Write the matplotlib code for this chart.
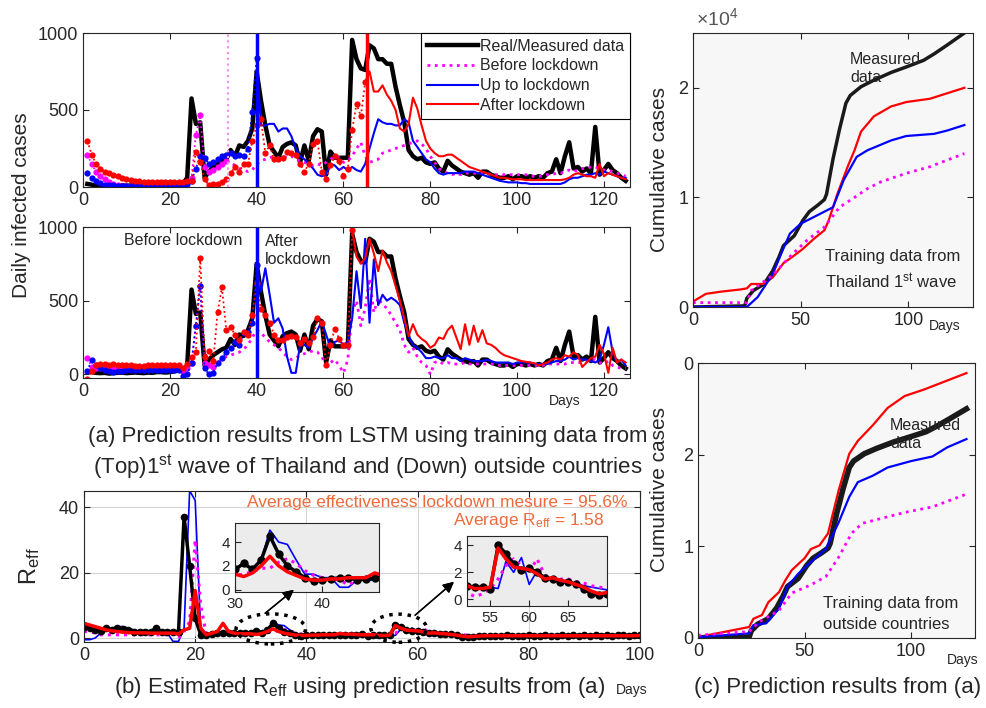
import matplotlib
matplotlib.use('Agg')
import matplotlib.pyplot as plt
import numpy as np
from matplotlib.patches import Ellipse
from matplotlib.lines import Line2D

plt.rcParams['font.family'] = ['Liberation Sans', 'DejaVu Sans']
plt.rcParams['mathtext.default'] = 'regular'
NARROW = ['Liberation Sans Narrow', 'Liberation Sans', 'DejaVu Sans']

# ---------------- data: daily cases (days 1..125) ----------------
days = np.arange(1, 126)

real_daily = [20, 15, 10, 8, 10, 5, 8, 10, 12, 8,
              10, 12, 10, 8, 12, 10, 15, 15, 12, 15,
              20, 25, 20, 60, 575, 410, 420, 60, 100, 130,
              150, 170, 180, 240, 200, 270, 260, 300, 380, 750,
              560, 400, 270, 230, 190, 260, 280, 290, 270, 160,
              270, 170, 330, 375, 360, 80, 230, 190, 190, 190,
              190, 955, 830, 770, 760, 920, 900, 830, 830, 800,
              800, 650, 530, 420, 240, 200, 180, 190, 160, 150,
              160, 120, 100, 170, 140, 120, 100, 90, 80, 90,
              60, 100, 100, 80, 70, 60, 60, 70, 50, 70,
              70, 60, 70, 60, 70, 60, 90, 100, 180, 90,
              200, 290, 120, 130, 100, 120, 90, 390, 80, 110,
              150, 110, 90, 60, 40]

# top panel: trained on Thailand 1st wave
before_top = [210, 150, 100, 70, 50, 30, 20, 10, 5, 5,
              5, 5, 5, 5, 5, 5, 5, 5, 5, 5,
              5, 10, 10, 30, 60, 340, 465, 130, 100, 110,
              130, 150, 170, 160, 140, 120, 110, 100, 110, 150,
              170, 180, 190, 200, 190, 200, 190, 200, 180, 170,
              160, 150, 140, 150, 140, 160, 180, 200, 190, 160,
              170, 200, 250, 290, 200, 160, 170, 180, 220, 230,
              240, 250, 260, 270, 280, 290, 300, 280, 250, 200,
              160, 120, 100, 90, 80, 90, 80, 90, 90, 90,
              90, 90, 90, 80, 80, 80, 80, 80, 80, 80,
              80, 80, 70, 70, 70, 70, 80, 80, 90, 90,
              100, 110, 100, 110, 120, 120, 130, 130, 120, 110,
              110, 100, 90, 80, 70]
upto_top = [90, 60, 40, 25, 15, 10, 10, 5, 5, 5,
            5, 5, 5, 5, 5, 5, 5, 5, 5, 5,
            5, 10, 15, 20, 40, 120, 200, 190, 150, 160,
            180, 200, 210, 220, 200, 210, 200, 250, 490, 840,
            400, 400, 410, 410, 360, 380, 380, 330, 250, 200,
            180, 150, 120, 80, 70, 80, 150, 140, 110, 130,
            110, 130, 110, 100, 150, 250, 350, 440, 420, 410,
            410, 400, 400, 440, 420, 300, 260, 220, 180, 160,
            120, 90, 80, 90, 90, 90, 90, 100, 100, 100,
            90, 80, 70, 60, 50, 40, 35, 30, 30, 30,
            25, 25, 20, 20, 20, 20, 20, 20, 20, 20,
            30, 50, 60, 60, 70, 80, 80, 90, 80, 100,
            90, 80, 70, 60, 60]
after_top = [300, 210, 150, 120, 100, 90, 80, 70, 60, 50,
             45, 40, 40, 35, 35, 35, 35, 35, 35, 35,
             35, 35, 35, 40, 40, 230, 160, 50, 10, 20,
             20, 30, 50, 90, 130, 100, 150, 150, 300, 400,
             440, 220, 270, 180, 180, 190, 230, 220, 210, 150,
             100, 150, 280, 300, 100, 50, 140, 200, 170, 70,
             120, 370, 540, 460, 680, 750, 620, 620, 660, 600,
             560, 500, 380, 360, 410, 580, 510, 400, 300, 250,
             220, 200, 200, 210, 210, 190, 170, 150, 130, 120,
             110, 100, 90, 80, 70, 60, 60, 55, 50, 50,
             50, 45, 45, 45, 45, 45, 45, 45, 45, 45,
             50, 60, 80, 90, 80, 70, 70, 60, 150, 70,
             90, 80, 70, 60, 50]

# middle panel: trained on outside countries
before_mid = [110, 50, 40, 40, 40, 40, 40, 40, 40, 40,
              40, 40, 40, 40, 40, 40, 40, 40, 40, 40,
              40, 40, 20, 40, 80, 330, 600, 80, 60, 50,
              80, 100, 120, 130, 140, 150, 170, 200, 250, 300,
              280, 250, 220, 200, 180, 150, 120, 100, 110, 130,
              140, 150, 160, 150, 120, 60, 80, 100, 60, 10,
              100, 420, 500, 330, 450, 650, 420, 520, 470, 450,
              400, 350, 300, 200, 150, 180, 120, 80, 60, 0,
              80, 90, 70, 80, 70, 70, 70, 80, 70, 70,
              70, 70, 70, 70, 70, 60, 60, 60, 60, 60,
              60, 60, 60, 60, 60, 60, 70, 70, 70, 70,
              70, 80, 80, 80, 80, 90, 90, 100, 80, 70,
              90, 60, 50, 40, 40]
upto_mid = [20, 100, 60, 40, 30, 20, 15, 20, 25, 30,
            30, 30, 30, 30, 30, 30, 30, 30, 30, 30,
            30, 30, -10, 0, 80, 330, 600, 40, 0, 10,
            80, 110, 150, 180, 220, 200, 280, 290, 350, 740,
            560, 720, 540, 350, 380, 310, 120, 10, 10, 200,
            200, 180, 250, 300, 360, 270, 180, 220, 230, 200,
            220, 380, 700, 450, 920, 350, 780, 470, 540, 500,
            520, 500, 470, 350, 260, 200, 180, 150, 110, 110,
            120, 110, 110, 130, 110, 110, 90, 110, 100, 90,
            90, 90, 100, 90, 80, 80, 80, 80, 70, 80,
            80, 80, 80, 70, 70, 70, 70, 80, 90, 90,
            100, 120, 100, 110, 100, 100, 90, 80, 100, 200,
            320, 150, 80, 100, 60]
after_mid = [-30, 20, 60, 70, 70, 60, 70, 60, 60, 60,
             60, 55, 55, 55, 60, 60, 65, 65, 65, 65,
             65, 60, 40, 70, 120, 150, 790, 120, 160, 90,
             420, 590, 300, 320, 270, 230, 290, 270, 400, 620,
             440, 400, 350, 270, 230, 230, 250, 260, 250, 210,
             240, 210, 250, 380, 350, 60, 200, 310, 240, 200,
             200, 980, 800, 750, 790, 920, 820, 700, 840, 760,
             700, 600, 500, 380, 260, 340, 270, 240, 220, 180,
             200, 250, 240, 300, 330, 250, 170, 340, 200, 330,
             220, 300, 210, 200, 180, 150, 130, 120, 110, 100,
             90, 85, 80, 75, 60, 70, 80, 100, 110, 100,
             130, 120, 150, 130, 50, 80, 110, 120, 200, 140,
             10, 180, 80, 100, 80]

# ---------------- data: R_eff (days 0..100) ----------------
r_days = np.arange(0, 101)
r_real = [3.5, 3.2, 2.5, 2.3, 3.0, 2.5, 3.0, 2.8, 2.5, 2.0,
          2.0, 2.0, 2.0, 3.0, 2.0, 2.0, 2.0, 2.0, 37.0, 22.0,
          6.0, 1.0, 1.0, 1.2, 1.5, 1.5, 1.5, 1.5, 1.5, 1.5,
          1.7, 2.2, 1.7, 2.5, 4.5, 3.0, 2.0, 1.5, 1.0, 0.7,
          0.8, 0.9, 1.0, 1.0, 0.8, 0.9, 1.0, 1.0, 1.0, 1.0,
          1.2, 0.5, 1.0, 0.9, 0.9, 0.8, 4.0, 3.4, 2.6, 2.2,
          2.3, 2.0, 1.6, 1.5, 1.3, 1.3, 1.1, 0.8, 0.4, 0.3,
          0.4, 0.6, 0.5, 0.6, 0.7, 0.6, 0.8, 0.7, 0.6, 0.7,
          0.8, 0.7, 0.6, 0.8, 0.7, 0.6, 0.8, 0.7, 0.8, 0.6,
          0.8, 0.7, 0.8, 0.7, 0.8, 0.7, 0.8, 0.8, 0.7, 0.8,
          0.8]
r_after = [4.5, 4.0, 3.5, 3.0, 2.5, 2.2, 2.0, 1.8, 1.7, 1.6,
           1.6, 1.6, 1.5, 1.5, 1.5, 1.5, 1.5, 1.2, 2.5, 3.0,
           14.5, 3.0, 1.0, 1.5, 2.0, 4.5, 2.0, 1.5, 1.3, 1.3,
           1.3, 1.1, 1.4, 2.0, 2.8, 2.0, 1.5, 1.2, 0.9, 0.8,
           0.8, 0.9, 0.9, 1.0, 1.0, 1.0, 1.4, 1.2, 1.2, 1.1,
           1.0, 1.0, 1.0, 0.8, 0.8, 0.9, 3.8, 3.0, 2.4, 2.3,
           2.2, 1.9, 1.5, 1.6, 1.4, 1.3, 1.1, 0.9, 0.6, 0.4,
           0.5, 0.6, 0.7, 0.7, 0.7, 0.7, 0.7, 0.7, 0.7, 0.7,
           0.7, 0.7, 0.7, 0.7, 0.7, 0.7, 0.7, 0.7, 0.7, 0.7,
           0.7, 0.7, 0.7, 0.7, 0.7, 0.7, 0.7, 0.7, 0.7, 0.7,
           0.8]
r_upto = [-0.5, -0.5, 0.0, 1.5, 2.5, 3.0, 3.5, 3.5, 3.0, 2.5,
          2.0, 1.5, 1.5, 1.5, 2.5, 1.5, -1.0, -1.0, 3.0, 45.0,
          42.0, 2.0, 1.0, 1.0, 1.0, 1.5, 1.5, 1.5, 2.0, 1.5,
          1.6, 2.3, 1.6, 2.5, 5.0, 4.0, 3.8, 2.5, 1.3, 1.3,
          1.0, 1.0, 0.2, 0.2, 0.8, 0.8, 0.8, 1.0, 1.0, 1.0,
          1.0, 0.9, 0.9, 0.8, 0.9, 0.9, 0.8, 2.8, 2.0, 3.1,
          1.1, 2.1, 1.6, 1.4, 1.3, 1.2, 1.2, 1.0, 0.9, 0.8,
          0.7, 0.6, 0.5, 0.5, 0.6, 0.7, 0.8, 0.8, 0.8, 0.8,
          0.8, 0.8, 0.8, 0.8, 0.8, 0.8, 0.8, 0.8, 0.8, 0.8,
          0.8, 0.8, 0.8, 0.8, 0.8, 0.8, 0.8, 0.8, 0.8, 0.8,
          0.8]
r_before = [2.0, 2.0, 1.5, 1.0, 1.0, 1.0, 1.0, 1.0, 1.0, 1.0,
            1.0, 1.0, 1.0, 1.0, 1.0, 1.0, 1.5, 0.0, 2.0, 5.0,
            30.0, 10.0, 1.0, 1.0, 1.0, 1.0, 1.0, 1.2, 1.2, 1.2,
            1.2, 1.3, 1.5, 1.8, 1.8, 2.3, 2.6, 2.2, 1.6, 1.2,
            1.0, 0.9, 0.8, 0.4, 0.8, 1.0, 1.0, 1.0, 1.0, 1.0,
            0.8, 0.5, 0.5, 0.2, 0.4, 0.8, 1.5, 2.5, 3.0, 2.5,
            2.0, 3.0, 1.8, 1.6, 1.5, 1.5, 1.3, 1.2, 1.0, 0.9,
            0.8, 0.8, 0.9, 0.9, 0.9, 0.9, 0.9, 0.9, 0.9, 0.9,
            0.9, 0.9, 0.9, 0.9, 0.9, 0.9, 0.9, 0.9, 0.9, 0.9,
            0.9, 0.9, 0.9, 0.9, 0.9, 0.9, 0.9, 0.9, 0.9, 0.9,
            0.9]

# ---------------- data: cumulative cases (x10^4) ----------------
cum_days_real = [0, 24, 25, 28, 33, 37, 40, 42, 47, 51, 54, 58, 61, 62, 65, 68,
                 71, 73, 78, 84, 92, 99, 107, 112, 118, 126]
cum_real = [0.0, 0.01, 0.08, 0.15, 0.21, 0.33, 0.46, 0.56, 0.65, 0.79, 0.87, 0.93,
            0.98, 1.03, 1.35, 1.62, 1.86, 1.93, 2.01, 2.07, 2.14, 2.19, 2.25,
            2.31, 2.39, 2.50]

ct_days_after = [0, 6, 13, 22, 25, 27, 33, 37, 42, 47, 51, 56, 61, 63, 67, 72, 75,
                 78, 84, 92, 99, 110, 118, 126]
ct_after = [0.05, 0.12, 0.14, 0.16, 0.17, 0.21, 0.21, 0.27, 0.40, 0.47, 0.53, 0.62,
            0.70, 0.79, 1.03, 1.29, 1.43, 1.60, 1.74, 1.83, 1.87, 1.90, 1.95, 2.00]
ct_days_upto = [0, 25, 30, 34, 37, 41, 45, 50, 53, 58, 65, 70, 76, 81, 92, 99, 112,
                118, 126]
ct_upto = [0.0, 0.0, 0.09, 0.21, 0.30, 0.49, 0.67, 0.76, 0.79, 0.84, 0.91, 1.16,
           1.37, 1.43, 1.52, 1.56, 1.58, 1.61, 1.66]
ct_days_before = [0, 25, 27, 37, 45, 53, 61, 68, 75, 81, 87, 99, 110, 118, 126]
ct_before = [0.04, 0.04, 0.15, 0.29, 0.46, 0.61, 0.73, 0.91, 1.00, 1.08, 1.14,
             1.22, 1.28, 1.34, 1.40]

co_days_after = [0, 24, 26, 30, 33, 38, 41, 44, 50, 53, 57, 61, 66, 71, 75, 82, 89,
                 97, 106, 116, 126]
co_after = [0.01, 0.12, 0.21, 0.25, 0.39, 0.50, 0.63, 0.74, 0.87, 0.97, 1.01, 1.14,
            1.61, 2.01, 2.15, 2.32, 2.51, 2.64, 2.71, 2.80, 2.89]
co_days_upto = [0, 24, 26, 32, 38, 42, 47, 53, 60, 66, 71, 75, 82, 89, 100, 110,
                117, 126]
co_upto = [0.01, 0.05, 0.14, 0.16, 0.32, 0.56, 0.70, 0.83, 0.97, 1.26, 1.54, 1.70,
           1.77, 1.86, 1.93, 1.98, 2.08, 2.17]
co_days_before = [0, 24, 29, 38, 44, 53, 60, 66, 72, 77, 82, 97, 110, 126]
co_before = [0.03, 0.07, 0.18, 0.30, 0.49, 0.58, 0.67, 0.88, 1.14, 1.25, 1.28,
             1.37, 1.43, 1.57]

# ---------------- layout helpers ----------------
W, H = 987, 708
fig = plt.figure(figsize=(W / 100, H / 100), dpi=100)
TXT = '#262626'
MAG, BLU, RED = '#ff00ff', '#0000ff', '#ff0000'
ORANGE = '#ef6a3a'


def box(l, t, r, b):
    return [l / W, 1 - b / H, (r - l) / W, (b - t) / H]


def fx(x):
    return x / W


def fy(y):
    return 1 - y / H


def style(ax, size=13):
    ax.tick_params(direction='in', top=True, right=True, labelsize=size,
                   colors=TXT, length=4, width=0.8)
    for s in ax.spines.values():
        s.set_color(TXT)
        s.set_linewidth(0.8)


def plot_split(ax, x, y, cut, color, solid_ls='-', lw=1.5, ms=4.5):
    x = np.asarray(x)
    y = np.asarray(y)
    k = np.searchsorted(x, cut) + 1
    ax.plot(x[:k], y[:k], ls=':', color=color, lw=1.3, marker='o', ms=ms,
            markeredgewidth=0)
    ax.plot(x[k - 1:], y[k - 1:], ls=solid_ls, color=color, lw=lw)


# ---------------- (a) top ----------------
ax1 = fig.add_axes(box(83, 33, 630, 187))
ax1.plot(days, real_daily, color='k', lw=3.2, zorder=2)
plot_split(ax1, days, before_top, 33, MAG, solid_ls=':', lw=2)
plot_split(ax1, days, upto_top, 40, BLU)
plot_split(ax1, days, after_top, 65, RED)
ax1.axvline(33.5, color='#f090f0', ls=(0, (1, 1.6)), lw=1.6)
ax1.axvline(40, color=BLU, lw=2.5)
ax1.axvline(65.5, color=RED, lw=2.5)
ax1.set_xlim(0, 126)
ax1.set_ylim(0, 1000)
ax1.set_xticks(range(0, 121, 20))
ax1.set_yticks([0, 500, 1000])
style(ax1)
handles = [Line2D([], [], color='k', lw=3.2),
           Line2D([], [], color=MAG, lw=2, ls=':'),
           Line2D([], [], color=BLU, lw=1.5),
           Line2D([], [], color=RED, lw=1.5)]
leg = ax1.legend(handles, ['Real/Measured data', 'Before lockdown',
                           'Up to lockdown', 'After lockdown'],
                 loc='upper right', bbox_to_anchor=(1, 1), borderaxespad=0,
                 fontsize=11.5, handlelength=3.2, handletextpad=0.15,
                 labelspacing=0.3, borderpad=0.35, fancybox=False,
                 framealpha=1)
leg.get_frame().set_edgecolor('k')
leg.get_frame().set_linewidth(0.8)
for t in leg.get_texts():
    t.set_color(TXT)

# ---------------- (a) middle ----------------
ax2 = fig.add_axes(box(83, 227, 630, 378))
ax2.plot(days, real_daily, color='k', lw=3.2, zorder=2)
plot_split(ax2, days, before_mid, 30, MAG, solid_ls=':', lw=2)
plot_split(ax2, days, upto_mid, 40, BLU)
plot_split(ax2, days, after_mid, 62, RED)
ax2.axvline(40, color=BLU, lw=2.5)
ax2.set_xlim(0, 126)
ax2.set_ylim(-25, 1000)
ax2.set_xticks(range(0, 121, 20))
ax2.set_yticks([0, 500, 1000])
style(ax2)
ax2.text(9.5, 905, 'Before lockdown', fontsize=11.5, color=TXT, va='center')
ax2.text(42, 955, 'After\nlockdown', fontsize=11.5, color=TXT, va='top',
         linespacing=1.25)

fig.text(fx(22), fy(205), 'Daily infected cases', rotation=90, fontsize=15,
         color=TXT, ha='center', va='center')
fig.text(fx(565), fy(401), 'Days', fontsize=10, color=TXT, ha='center',
         va='center')
fig.text(fx(368), fy(437),
         '(a) Prediction results from LSTM using training data from',
         fontsize=16, family=NARROW, color=TXT, ha='center', va='center')
fig.text(fx(368), fy(467),
         '(Top)1$^{st}$ wave of Thailand and (Down) outside countries',
         fontsize=16, family=NARROW, color=TXT, ha='center', va='center')

# ---------------- (b) R_eff ----------------
ax3 = fig.add_axes(box(84, 491, 640, 642))
ax3.grid(True, color='#d4d4d4', lw=0.8)
ax3.set_axisbelow(True)


def reff_lines(ax, ms=5.5):
    ax.plot(r_days, r_upto, color=BLU, lw=1.2)
    ax.plot(r_days, r_before, color=MAG, ls=':', lw=2.2)
    ax.plot(r_days, r_real, color='k', lw=2.5, marker='o', ms=ms,
            markeredgewidth=0)
    ax.plot(r_days, r_after, color=RED, lw=2.5)


reff_lines(ax3)
ax3.set_xlim(0, 100)
ax3.set_ylim(-1.2, 44.9)
ax3.set_xticks(range(0, 101, 20))
ax3.set_yticks([0, 20, 40])
style(ax3)
ax3.add_patch(Ellipse((33.6, 2.8), 12.5, 9.2, fill=False, ls=':', lw=2.5,
                      color='k', clip_on=False, zorder=5))
ax3.add_patch(Ellipse((56.6, 3.0), 10.0, 8.6, fill=False, ls=':', lw=2.5,
                      color='k', clip_on=False, zorder=5))

fig.text(fx(628), fy(502), 'Average effectiveness lockdown mesure = 95.6%',
         fontsize=12.5, family=NARROW, color=ORANGE, ha='right', va='center')
fig.text(fx(604), fy(521), 'Average R$_{eff}$ = 1.58', fontsize=12.5,
         family=NARROW, color=ORANGE, ha='right', va='center')
fig.text(fx(30), fy(566), 'R$_{eff}$', rotation=90, fontsize=17, color=TXT,
         ha='center', va='center')
fig.text(fx(632), fy(690), 'Days', fontsize=10, color=TXT, ha='center',
         va='center')
fig.text(fx(360), fy(688),
         '(b) Estimated R$_{eff}$ using prediction results from (a)',
         fontsize=16, family=NARROW, color=TXT, ha='center', va='center')

# insets
for (l, t, r, b), xl, yl, xt in [((235, 523, 379, 592), (30, 46.5), (-0.2, 5.6), [30, 40]),
                                  ((467, 536, 607, 606), (52, 70), (-0.5, 4.7), [55, 60, 65])]:
    axi = fig.add_axes(box(l, t, r, b))
    axi.set_facecolor('#ececec')
    reff_lines(axi, ms=6)
    axi.set_xlim(*xl)
    axi.set_ylim(*yl)
    axi.set_xticks(xt)
    axi.set_yticks([0, 2, 4])
    style(axi, size=11)
    axi.tick_params(top=False, right=False)

for (x0, y0), (x1, y1) in [((263, 615), (296, 588)), ((413, 617), (456, 580))]:
    fig.add_artist(plt.annotate('', xy=(fx(x1), fy(y1)), xytext=(fx(x0), fy(y0)),
                                xycoords='figure fraction',
                                textcoords='figure fraction',
                                arrowprops=dict(arrowstyle='-|>', color='k',
                                                lw=1, mutation_scale=16)))

# ---------------- (c) cumulative ----------------
ax4 = fig.add_axes(box(693, 33, 973, 307))
ax4.set_facecolor('#f7f7f7')
ax4.plot(cum_days_real, cum_real, color='#1a1a1a', lw=2.5)
ax4.plot(ct_days_after, ct_after, color=RED, lw=1.6)
ax4.plot(ct_days_upto, ct_upto, color=BLU, lw=1.6)
ax4.plot(ct_days_before, ct_before, color=MAG, lw=2, ls=':')
ax4.set_xlim(0, 130)
ax4.set_ylim(0, 2.5)
ax4.set_xticks([0, 50, 100])
ax4.set_yticks([0, 1, 2])
style(ax4)
fig.text(fx(696), fy(18), r'$\times10^4$', fontsize=14, color='#555555',
         ha='left', va='center')
fig.text(fx(850), fy(52), 'Measured\ndata', fontsize=11.5, color=TXT,
         ha='left', va='top', linespacing=1.25)
fig.text(fx(825), fy(270), 'Training data from\nThailand 1$^{st}$ wave',
         fontsize=12, color=TXT, ha='left', va='center', linespacing=1.5)
fig.text(fx(945), fy(326), 'Days', fontsize=10, color=TXT, ha='center',
         va='center')
fig.text(fx(660), fy(170), 'Cumulative cases', rotation=90, fontsize=15,
         color=TXT, ha='center', va='center')

ax5 = fig.add_axes(box(698, 363, 975, 638))
ax5.set_facecolor('#f7f7f7')
ax5.plot(co_days_after, co_after, color=RED, lw=1.6)
ax5.plot(cum_days_real, cum_real, color='#1a1a1a', lw=4)
ax5.plot(co_days_upto, co_upto, color=BLU, lw=1.6)
ax5.plot(co_days_before, co_before, color=MAG, lw=2, ls=':')
ax5.set_xlim(0, 130)
ax5.set_ylim(0, 3)
ax5.set_xticks([0, 50, 100])
ax5.set_yticks([0, 1, 2, 3])
ax5.set_yticklabels(['0', '1', '2', '0'])
style(ax5)
fig.text(fx(890), fy(418), 'Measured\ndata', fontsize=11.5, color=TXT,
         ha='left', va='top', linespacing=1.25)
fig.text(fx(823), fy(614), 'Training data from\noutside countries',
         fontsize=12, color=TXT, ha='left', va='center', linespacing=1.5)
fig.text(fx(963), fy(660), 'Days', fontsize=10, color=TXT, ha='center',
         va='center')
fig.text(fx(660), fy(490), 'Cumulative cases', rotation=90, fontsize=15,
         color=TXT, ha='center', va='center')
fig.text(fx(838), fy(688), '(c) Prediction results from (a)', fontsize=16,
         family=NARROW, color=TXT, ha='center', va='center')

fig.savefig('out.png', dpi=100)
